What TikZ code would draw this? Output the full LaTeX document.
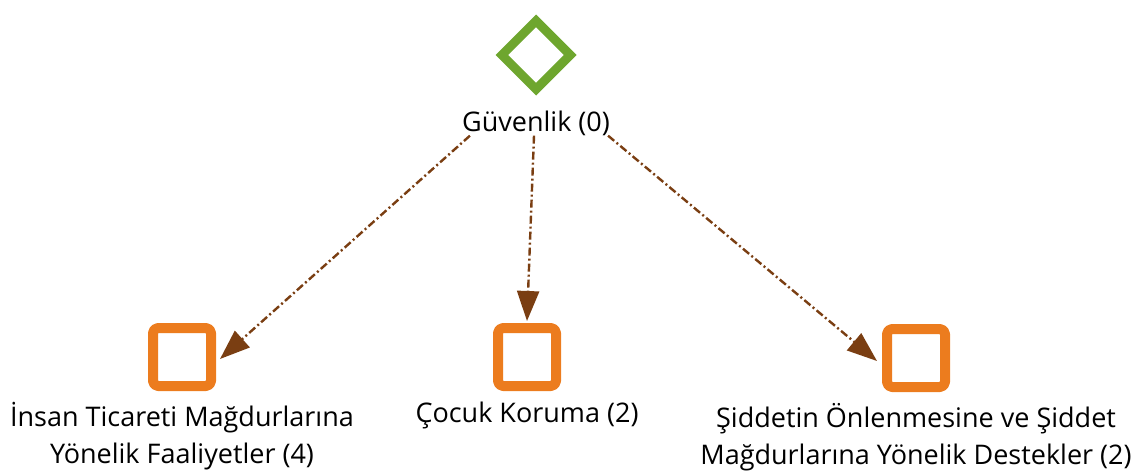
\documentclass[tikz,border=0pt]{standalone}
\usepackage{fontspec}
\setmainfont{Open Sans}
\usetikzlibrary{arrows.meta}
\usetikzlibrary{shapes.geometric}
\usetikzlibrary{positioning}
\usetikzlibrary{shadows}
\definecolor{catgreen}{RGB}{110,166,46}
\definecolor{itemorange}{RGB}{236,124,30}
\definecolor{linkbrown}{RGB}{122,62,18}

\begin{document}
\begin{tikzpicture}[line cap=round,line join=round,x=1pt,y=-1pt,
    font=\fontsize{27}{37}\selectfont,
    catnode/.style={diamond,aspect=1,draw=catgreen,line width=9pt,line join=miter,fill=white,
      minimum width=72pt,minimum height=72pt,inner sep=0pt,
      drop shadow={shadow xshift=1.5pt,shadow yshift=-1.5pt,fill=black!30}},
    itemnode/.style={rectangle,rounded corners=5pt,draw=itemorange,line width=10pt,fill=white,
      minimum size=58pt,inner sep=0pt,
      drop shadow={shadow xshift=1.5pt,shadow yshift=-1.5pt,fill=black!30}},
    lbl/.style={align=center,inner sep=0pt},
    link/.style={draw=linkbrown,line width=2.4pt,line cap=butt,
      dash pattern=on 8pt off 3pt on 2pt off 3pt,
      -{Triangle[length=30pt,width=22pt]}}]
      \useasboundingbox (0,0) rectangle (1144,472);
      % top category
      \node[catnode] (cat) at (536,55) {};
      \node[lbl,below=15pt of cat] (catlbl) {Güvenlik (0)};
      % items
      \node[itemnode] (sq1) at (182,357) {};
      \node[itemnode] (sq2) at (527,357) {};
      \node[itemnode] (sq3) at (916,358) {};
      \node[lbl,below=11pt of sq1] (lbl1) {İnsan Ticareti Mağdurlarına\\Yönelik Faaliyetler (4)};
      \node[lbl,below=11pt of sq2] (lbl2) {Çocuk Koruma (2)};
      \node[lbl,below=11pt of sq3] (lbl3) {Şiddetin Önlenmesine ve Şiddet\\Mağdurlarına Yönelik Destekler (2)};
      % links
      \draw[link] ([xshift=8pt]catlbl.south west) -- ([xshift=4pt,yshift=-2pt]sq1.east);
      \draw[link] ([xshift=-2pt]catlbl.south) -- ([yshift=2pt]sq2.north);
      \draw[link] ([xshift=-2pt]catlbl.south east) -- ([xshift=-5pt,yshift=-3pt]sq3.west);
\end{tikzpicture}
\end{document}
